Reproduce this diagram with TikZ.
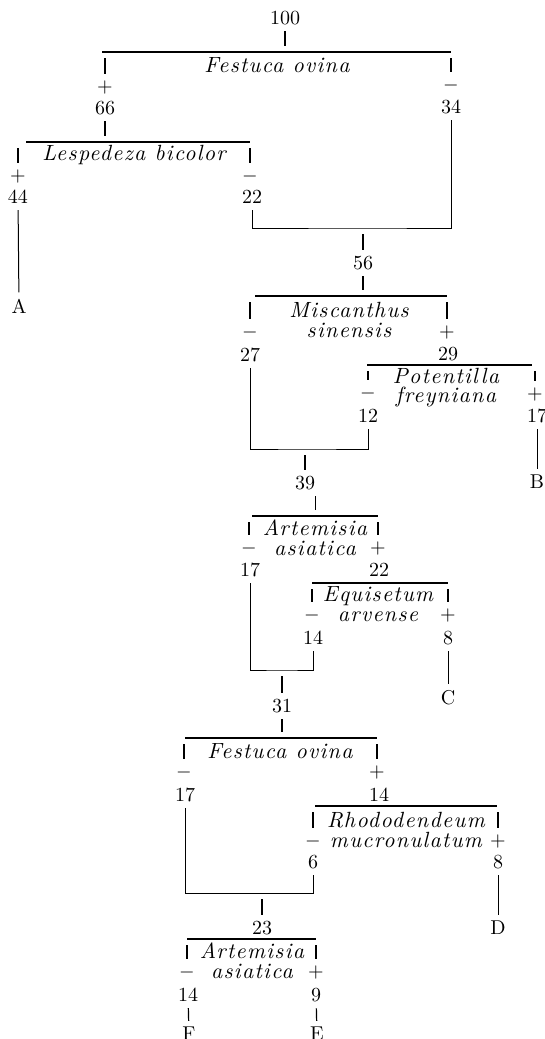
\documentclass[tikz,border=0pt]{standalone}
\usepackage{fontspec}
\usepackage{tikz}
\usetikzlibrary{positioning}
\newfontface\taxfont[LetterSpace=6,Scale=1.1]{lmroman10-italic.otf}
\tikzset{%
  num/.style={%
    inner sep=0pt
  },
  sgn/.style={%
    inner sep=0pt
  },
  taxon/.style={%
    inner sep=0pt,
    align=center,
    font=\taxfont
  },
  bar/.style={%
    line width=0.7pt
  },
  tick/.style={%
    line width=0.6pt,
    shorten <=3pt,
    shorten >=3pt
  },
  stem/.style={%
    line width=0.5pt,
    shorten <=3pt,
    shorten >=3pt
  }
}

\begin{document}
\begin{tikzpicture}[x=0.5pt,y=-0.5pt]
    \useasboundingbox (0,0) rectangle (545,1039);

    % Festuca ovina
    \node[num] (n100) at (285,18) {100};
    \draw[bar] (102,52) -- (451,52);
    \draw[tick] (n100) -- (n100 |- 0,52);
    \node[taxon] (t1) at (277,65) {Festuca ovina};
    \node[sgn] (s1p) at (105,87) {$+$};
    \node[sgn] (s1m) at (451,85) {$-$};
    \draw[tick] (s1p |- 0,52) -- (s1p);
    \draw[tick] (s1m |- 0,52) -- (s1m);
    \node[num] (n66) at (105,108) {66};
    \node[num] (n34) at (451,107) {34};

    % Lespedeza bicolor
    \draw[bar] (26,142) -- (250,142);
    \draw[tick] (n66) -- (n66 |- 0,142);
    \node[taxon] (t2) at (134,155) {Lespedeza bicolor};
    \node[sgn] (s2p) at (18,176) {$+$};
    \node[sgn] (s2m) at (250,176) {$-$};
    \draw[tick] (s2p |- 0,142) -- (s2p);
    \draw[tick] (s2m |- 0,142) -- (s2m);
    \node[num] (n44) at (18,197) {44};
    \node[num] (n22) at (252,197) {22};
    \node[num] (nA) at (19,306) {A};
    \draw[stem] (n44) -- (nA);

    \coordinate (j1) at (363,228);
    \draw[stem] (n22) |- (j1) -| (n34);
    \node[num] (n56) at (363,263) {56};
    \draw[tick] (j1) -- (n56);

    % Miscanthus sinensis
    \draw[bar] (255,296) -- (447,296);
    \draw[tick] (n56) -- (n56 |- 0,296);
    \node[taxon] (t3) at (349,320) {Miscanthus\\[-2pt]sinensis};
    \node[sgn] (s3m) at (250,332) {$-$};
    \node[sgn] (s3p) at (447,332) {$+$};
    \draw[tick] (s3m |- 0,296) -- (s3m);
    \draw[tick] (s3p |- 0,296) -- (s3p);
    \node[num] (n27) at (250,355) {27};
    \node[num] (n29) at (448,354) {29};

    % Potentilla freyniana
    \draw[bar] (367,365) -- (532,365);
    \node[taxon] (t4) at (446,388) {Potentilla\\[-2.5pt]freyniana};
    \node[sgn] (s4m) at (368,393) {$-$};
    \node[sgn] (s4p) at (535,394) {$+$};
    \draw[tick] (s4m |- 0,365) -- (s4m);
    \draw[tick] (s4p |- 0,365) -- (s4p);
    \node[num] (n12) at (368,416) {12};
    \node[num] (n17) at (537,416) {17};
    \node[num] (nB) at (537,482) {B};
    \draw[stem] (n17) -- (nB);

    \coordinate (j2) at (305,449);
    \draw[stem] (n27) |- (j2) -| (n12);
    \node[num] (n39) at (305,483) {39};
    \draw[tick] (j2) -- (n39);

    % Artemisia asiatica
    \draw[bar] (252,516) -- (378,516);
    \draw[tick] (n39.south east) -- (n39.south east |- 0,516);
    \node[taxon] (t5) at (315,538) {Artemisia\\[-2pt]asiatica};
    \node[sgn] (s5m) at (249,548) {$-$};
    \node[sgn] (s5p) at (378,548) {$+$};
    \draw[tick] (s5m |- 0,516) -- (s5m);
    \draw[tick] (s5p |- 0,516) -- (s5p);
    \node[num] (n17b) at (250,570) {17};
    \node[num] (n22b) at (379,570) {22};

    % Equisetum arvense
    \draw[bar] (312,583) -- (448,583);
    \node[taxon] (t6) at (378,604) {Equisetum\\[-2pt]arvense};
    \node[sgn] (s6m) at (312,615) {$-$};
    \node[sgn] (s6p) at (448,615) {$+$};
    \draw[tick] (s6m |- 0,583) -- (s6m);
    \draw[tick] (s6p |- 0,583) -- (s6p);
    \node[num] (n14) at (313,638) {14};
    \node[num] (n8) at (448,638) {8};
    \node[num] (nC) at (448,698) {C};
    \draw[stem] (n8) -- (nC);

    \coordinate (j3) at (282,670);
    \draw[stem] (n17b) |- (j3) -| (n14);
    \node[num] (n31) at (282,706) {31};
    \draw[tick] (j3) -- (n31);

    % Festuca ovina
    \draw[bar] (185,738) -- (377,738);
    \draw[tick] (n31) -- (n31 |- 0,738);
    \node[taxon] (t7) at (280,751) {Festuca ovina};
    \node[sgn] (s7m) at (184,772) {$-$};
    \node[sgn] (s7p) at (377,772) {$+$};
    \draw[tick] (s7m |- 0,738) -- (s7m);
    \draw[tick] (s7p |- 0,738) -- (s7p);
    \node[num] (n17c) at (185,795) {17};
    \node[num] (n14b) at (379,795) {14};

    % Rhododendeum mucronulatum
    \draw[bar] (315,806) -- (497,806);
    \node[taxon] (t8) at (406,830) {Rhododendeum\\[-2pt]mucronulatum};
    \node[sgn] (s8m) at (313,841) {$-$};
    \node[sgn] (s8p) at (498,841) {$+$};
    \draw[tick] (s8m |- 0,806) -- (s8m);
    \draw[tick] (s8p |- 0,806) -- (s8p);
    \node[num] (n6) at (313,862) {6};
    \node[num] (n8b) at (498,862) {8};
    \node[num] (nD) at (498,928) {D};
    \draw[stem] (n8b) -- (nD);

    \coordinate (j4) at (262,893);
    \draw[stem] (n17c) |- (j4) -| (n6);
    \node[num] (n23) at (262,928) {23};
    \draw[tick] (j4) -- (n23);

    % Artemisia asiatica
    \draw[bar] (187,939) -- (316,939);
    \node[taxon] (t9) at (252,961) {Artemisia\\[-2pt]asiatica};
    \node[sgn] (s9m) at (187,972) {$-$};
    \node[sgn] (s9p) at (316,972) {$+$};
    \draw[tick] (s9m |- 0,939) -- (s9m);
    \draw[tick] (s9p |- 0,939) -- (s9p);
    \node[num] (n14c) at (188,995) {14};
    \node[num] (n9) at (316,995) {9};
    \node[num] (nF) at (189,1034) {F};
    \node[num] (nE) at (317,1034) {E};
    \draw[tick] (n14c) -- (nF);
    \draw[tick] (n9) -- (nE);
\end{tikzpicture}
\end{document}
